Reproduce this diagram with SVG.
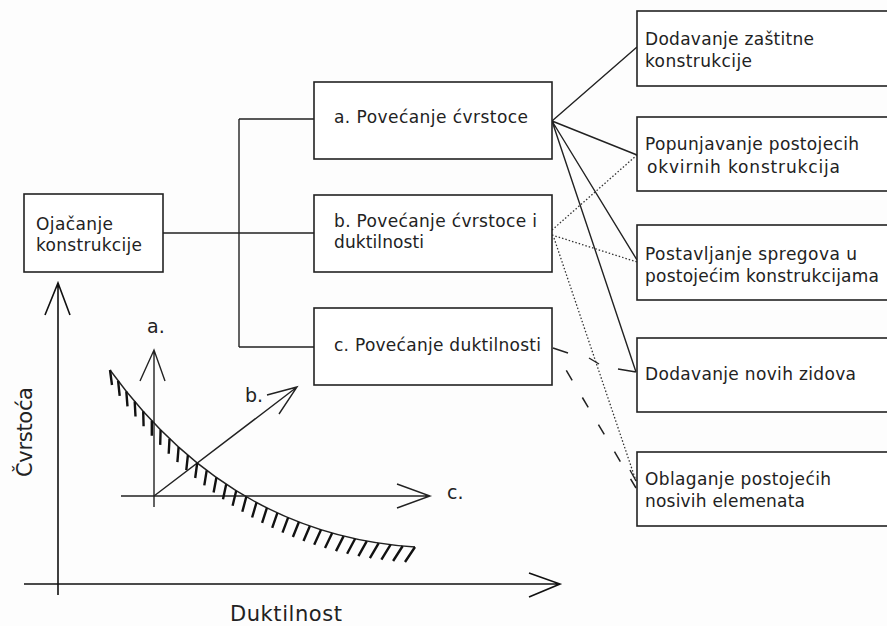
<svg xmlns="http://www.w3.org/2000/svg" width="887" height="626" viewBox="0 0 887 626">
<style>
.box{fill:#fff;stroke:#222;stroke-width:1.6}
.t{font-family:"DejaVu Sans",Verdana,sans-serif;font-size:17px;fill:#222}
.lbl{font-size:19px}
.ln{fill:none;stroke:#222;stroke-width:1.4}
.dot{fill:none;stroke:#333;stroke-width:1.3;stroke-dasharray:1.5 2}
.dash{fill:none;stroke:#222;stroke-width:1.5;stroke-dasharray:11.5 20}
.ax{fill:none;stroke:#111;stroke-width:1.6}
</style>
<rect width="887" height="626" fill="#fdfdfd"/>
<g id="connectors">
<path class="ln" d="M163,233 H314 M239,119 V347 M239,119 H314 M239,347 H314"/>
<path class="ln" d="M552,121 L637,47 M552,121 L637,155 M552,121 L637,260 M552,121 L636,372 M618,369 L636,372"/>
<path class="dot" d="M552,230 L637,155 M552,235 L637,262 M554,238 L636,481"/>
<path class="ln" d="M630,470 L636,481"/>
<path class="ln" d="M589,358 L599,364"/>
<path class="dash" d="M566.3,370.4 L636,488"/>
<path class="ln" d="M553,348 L568,353"/>
</g>
<g id="n-ojacanje">
<rect class="box" x="24" y="194" width="139" height="78"/>
<text class="t" x="36" y="230" textLength="77">Ojačanje</text>
<text class="t" x="36" y="251" textLength="106">konstrukcije</text>
</g>
<g id="n-a">
<rect class="box" x="314" y="82" width="238" height="77"/>
<text class="t" x="334" y="123" textLength="194">a. Povećanje  ćvrstoce</text>
</g>
<g id="n-b">
<rect class="box" x="314" y="195" width="238" height="77"/>
<text class="t" x="334" y="227" textLength="203">b. Povećanje ćvrstoce i</text>
<text class="t" x="334" y="248" textLength="90">duktilnosti</text>
</g>
<g id="n-c">
<rect class="box" x="314" y="308" width="238" height="77"/>
<text class="t" x="334" y="351" textLength="207">c. Povećanje duktilnosti</text>
</g>
<g id="n-r1">
<rect class="box" x="637" y="11" width="262" height="75"/>
<text class="t" x="645" y="45" textLength="169">Dodavanje zaštitne</text>
<text class="t" x="645" y="67" textLength="107">konstrukcije</text>
</g>
<g id="n-r2">
<rect class="box" x="637" y="117" width="262" height="74"/>
<text class="t" x="645" y="150" textLength="214">Popunjavanje postojecih</text>
<text class="t" x="647" y="173" textLength="193">okvirnih  konstrukcija</text>
</g>
<g id="n-r3">
<rect class="box" x="637" y="225" width="262" height="75"/>
<text class="t" x="645" y="260" textLength="212">Postavljanje spregova u</text>
<text class="t" x="645" y="282" textLength="234">postojećim konstrukcijama</text>
</g>
<g id="n-r4">
<rect class="box" x="637" y="338" width="262" height="74"/>
<text class="t" x="645" y="380" textLength="211">Dodavanje novih zidova</text>
</g>
<g id="n-r5">
<rect class="box" x="637" y="452" width="262" height="74"/>
<text class="t" x="645" y="485" textLength="186">Oblaganje postojećih</text>
<text class="t" x="645" y="507" textLength="160">nosivih elemenata</text>
</g>
<g id="chart">
<path class="ax" d="M58,595 V283 M45,315 L58,283 L70,315"/>
<path class="ax" d="M24,584 H560 M529,573 L560,584 L529,597"/>
<text class="t" style="font-size:21px" x="32" y="477" transform="rotate(-90 32 477)" textLength="90">Čvrstoća</text>
<text class="t" style="font-size:21px" x="230" y="621" textLength="112">Duktilnost</text>
<path class="ln" d="M154,507 V350 M140,381 L154,350 L165,381"/>
<path class="ln" d="M121,496 H430 M397,484 L430,496 L397,508"/>
<path class="ln" d="M154,496 L297,387 M267,395 L297,387 L279,414"/>
<text class="t lbl" x="147" y="333">a.</text>
<text class="t lbl" x="245" y="402">b.</text>
<text class="t lbl" x="447" y="499">c.</text>
<path class="ln" d="M110,370 Q230,535 415,547"/>
<path fill="none" stroke="#111" stroke-width="2.4" d="M110,370L112,385M118.1,380.8L119.7,395.8M126.3,391.3L127.5,406.3M134.7,401.5L135.5,416.5M143.2,411.3L143.6,426.3M151.8,420.8L151.8,435.8M160.6,429.9L160.2,444.9M169.5,438.7L168.7,453.7M178.6,447.1L177.4,462.1M187.9,455.2L186.3,470.2M197.2,463L195.2,478M206.7,470.4L204.3,485.4M216.4,477.5L213.6,492.5M226.2,484.3L223,499.3M236.2,490.7L232.6,505.7M246.3,496.8L242.3,511.8M256.5,502.5L252.1,517.5M266.9,507.9L262.1,522.9M277.4,512.9L272.2,527.9M288.1,517.6L282.5,532.6M298.9,522L292.9,537M309.9,526L303.5,541M321,529.7L314.2,544.7M332.2,533.1L325,548.1M343.6,536.1L336,551.1M355.1,538.8L347.1,553.8M366.8,541.1L358.4,556.1M378.7,543.1L369.9,558.1M390.6,544.7L381.4,559.7M402.7,546L393.1,561M415,547L405,562"/>
</g>
</svg>
